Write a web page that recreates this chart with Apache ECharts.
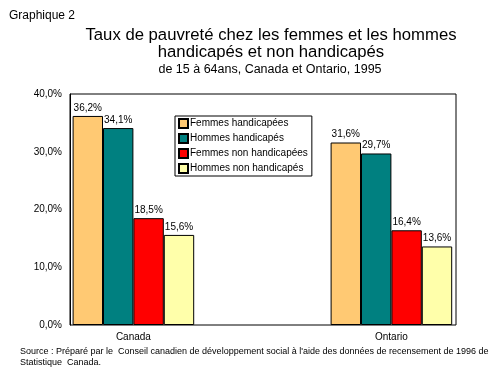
<!DOCTYPE html>
<html><head><meta charset="utf-8">
<script src="https://cdn.jsdelivr.net/npm/echarts@6/dist/echarts.min.js"></script>
<style>html,body{margin:0;padding:0;background:#fff;overflow:hidden}#c{width:560px;height:369px}</style>
</head><body><div id="c"></div>
<script>
const categories = ['Canada', 'Ontario'];
const seriesNames = ['Femmes handicapées', 'Hommes handicapés', 'Femmes non handicapées', 'Hommes non handicapés'];
const femmesHandicapees = [36.2, 31.6];
const hommesHandicapes = [34.1, 29.7];
const femmesNonHandicapees = [18.5, 16.4];
const hommesNonHandicapes = [15.6, 13.6];
const colors = ['#FFC973', '#008080', '#FF0000', '#FFFFAA'];
const yTicks = [0, 10, 20, 30, 40];

const chart = echarts.init(document.getElementById('c'), null, {renderer: 'canvas'});
const font = 'Arial, "Liberation Sans", sans-serif';
const fmt = v => v.toFixed(1).replace('.', ',') + '%';
const values = [femmesHandicapees, hommesHandicapes, femmesNonHandicapees, hommesNonHandicapes];

const plotTop = 94, plotH = 231;
chart.setOption({
  animation: false,
  textStyle: {fontFamily: font},
  title: [
    {text: 'Graphique 2', left: 4, top: 5, textStyle: {fontSize: 12, fontWeight: 'normal', color: '#000', fontFamily: font}},
    {text: 'Taux de pauvreté chez les femmes et les hommes\nhandicapés et non handicapés', left: 266, top: 22, textAlign: 'center',
     textStyle: {fontSize: 16.7, fontWeight: 'normal', color: '#000', lineHeight: 17, fontFamily: font}},
    {text: 'de 15 à 64ans, Canada et Ontario, 1995', left: 265, top: 58, textAlign: 'center',
     textStyle: {fontSize: 12.5, fontWeight: 'normal', color: '#000', fontFamily: font}}
  ],
  legend: {
    left: 175, top: 116, orient: 'vertical', itemGap: 4, itemWidth: 9, itemHeight: 9,
    padding: [2, 4, 2, 3], borderColor: '#000', borderWidth: 1, backgroundColor: '#fff',
    icon: 'rect', data: seriesNames,
    textStyle: {fontSize: 10, color: '#000', padding: [0, 0, 0, -3], fontFamily: font}
  },
  grid: [
    {left: 4.4, width: 516, top: plotTop, height: plotH, show: false},
    {left: 70, width: 386, top: plotTop, height: plotH, show: true, borderColor: '#000', borderWidth: 1, z: 0}
  ],
  xAxis: [
    {gridIndex: 0, type: 'category', data: categories, axisLine: {show: false}, axisTick: {show: false},
     axisLabel: {fontSize: 10, color: '#000', margin: 7, fontFamily: font}},
    {gridIndex: 1, type: 'category', data: categories, show: false}
  ],
  yAxis: [
    {gridIndex: 0, type: 'value', min: 0, max: 40, interval: 10, show: false},
    {gridIndex: 1, type: 'value', min: yTicks[0], max: yTicks[yTicks.length - 1], interval: 10,
     splitLine: {show: false}, axisLine: {show: true, lineStyle: {color: '#000'}},
     axisTick: {show: false},
     axisLabel: {fontSize: 10, color: '#000', margin: 8, formatter: v => fmt(v), fontFamily: font}}
  ],
  series: seriesNames.map((n, i) => ({
    name: n, type: 'bar', xAxisIndex: 0, yAxisIndex: 0, data: values[i],
    barWidth: 30.4, barGap: '0%',
    itemStyle: {color: colors[i], borderColor: '#000', borderWidth: 1},
    label: {show: true, position: 'top', distance: 3, fontSize: 10, color: '#000', formatter: p => fmt(p.value), fontFamily: font}
  })),
  graphic: [
    {type: 'text', left: 20, top: 346, style: {text: 'Source : Préparé par le  Conseil canadien de développement social à l\'aide des données de recensement de 1996 de\nStatistique  Canada.', font: '9px ' + font, fill: '#000', lineHeight: 11}}
  ]
});
</script></body></html>
